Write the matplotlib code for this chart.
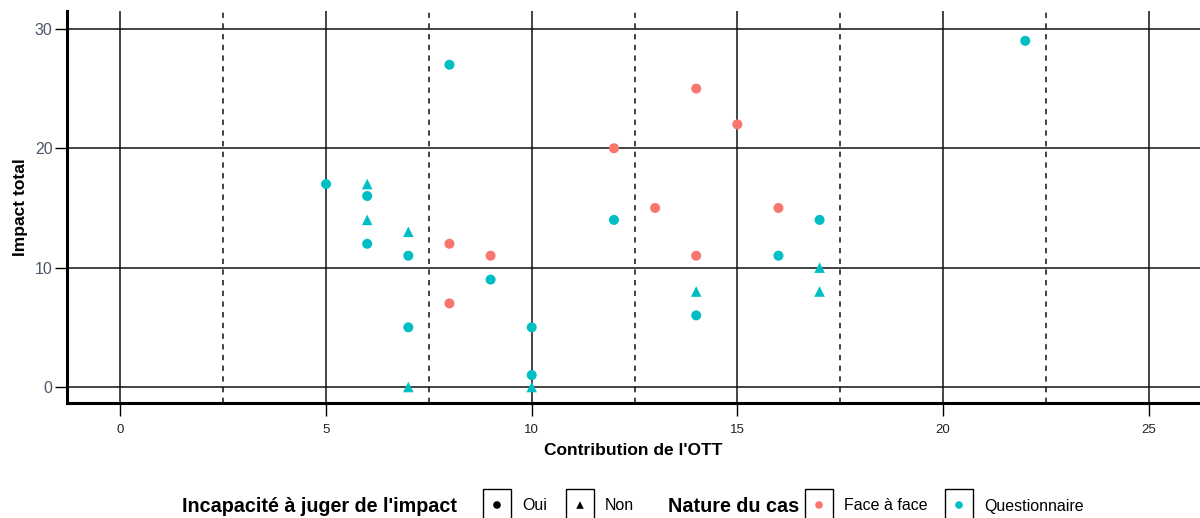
import matplotlib
matplotlib.use('Agg')
import matplotlib.pyplot as plt
from matplotlib.patches import Rectangle

# --- Data ---
contribution = [5, 6, 6, 6, 6, 7, 7, 7, 7, 8, 8, 8, 9, 9, 10, 10, 10,
                12, 12, 13, 14, 14, 14, 14, 15, 16, 16, 17, 17, 17, 22]
impact = [17, 17, 16, 14, 12, 13, 11, 5, 0, 27, 12, 7, 11, 9, 5, 1, 0,
          20, 14, 15, 25, 11, 8, 6, 22, 15, 11, 14, 10, 8, 29]
incapacite = ['Oui', 'Non', 'Oui', 'Non', 'Oui', 'Non', 'Oui', 'Oui', 'Non',
              'Oui', 'Oui', 'Oui', 'Oui', 'Oui', 'Oui', 'Oui', 'Non',
              'Oui', 'Oui', 'Oui', 'Oui', 'Oui', 'Non', 'Oui', 'Oui', 'Oui',
              'Oui', 'Oui', 'Non', 'Non', 'Oui']
nature = ['Questionnaire'] * 9 + ['Questionnaire', 'Face à face', 'Face à face',
          'Face à face', 'Questionnaire', 'Questionnaire', 'Questionnaire',
          'Questionnaire', 'Face à face', 'Questionnaire', 'Face à face',
          'Face à face', 'Face à face', 'Questionnaire', 'Questionnaire',
          'Face à face', 'Face à face', 'Questionnaire', 'Questionnaire',
          'Questionnaire', 'Questionnaire', 'Questionnaire']

x_ticks = [0, 5, 10, 15, 20, 25]
x_minor = [2.5, 7.5, 12.5, 17.5, 22.5]
y_ticks = [0, 10, 20, 30]

COLORS  = {'Face à face': '#F8766D', 'Questionnaire': '#00BFC4'}
MARKERS = {'Oui': 'o', 'Non': '^'}

plt.rcParams['font.family'] = ['Liberation Sans', 'DejaVu Sans']

fig = plt.figure(figsize=(12, 5.18), dpi=100)
W, H = 1200, 518
ax = fig.add_axes([67 / W, 1 - 403 / H, 1 - 67 / W, (403 - 11) / H])

for v in x_ticks:
    ax.axvline(v, color='#111111', lw=1.1, zorder=1)
for v in x_minor:
    ax.axvline(v, color='#111111', lw=1.1, ls=(0, (3.5, 3.5)), zorder=1)
for v in y_ticks:
    ax.axhline(v, color='#111111', lw=1.1, zorder=1)

for inc, mk in MARKERS.items():
    for nat, col in COLORS.items():
        xs = [x for x, i, n in zip(contribution, incapacite, nature) if i == inc and n == nat]
        ys = [y for y, i, n in zip(impact, incapacite, nature) if i == inc and n == nat]
        if xs:
            ax.scatter(xs, ys, marker=mk, s=52 if mk == 'o' else 58,
                       color=col, edgecolors='none', zorder=3)

ax.set_xlim(-1.3, 26.25)
ax.set_ylim(-1.34, 31.5)
ax.set_xticks(x_ticks)
ax.set_yticks(y_ticks)
for s in ['top', 'right']:
    ax.spines[s].set_visible(False)
for s in ['left', 'bottom']:
    ax.spines[s].set_linewidth(2.2)
    ax.spines[s].set_color('black')
ax.tick_params(axis='y', length=8.5, width=1, pad=2, labelsize=11.5,
               labelcolor='#4D5566', color='black')
ax.tick_params(axis='x', length=9, width=1, pad=6, labelsize=9.5,
               labelcolor='#222222', color='black')
ax.set_xlabel("Contribution de l'OTT", fontsize=12.5, fontweight='bold', labelpad=5)
ax.set_ylabel('Impact total', fontsize=12.5, fontweight='bold', labelpad=5)

# --- Legend (drawn in pixel coordinates of an overlay) ---
lg = fig.add_axes([0, 0, 1, 1], zorder=5)
lg.set_xlim(0, W)
lg.set_ylim(H, 0)
lg.axis('off')
lg.patch.set_alpha(0)

ly = 506
lg.text(182, ly, "Incapacité à juger de l'impact", fontsize=14.2,
        fontweight='bold', va='center', ha='left')
lg.text(668, ly, 'Nature du cas', fontsize=14.2, fontweight='bold',
        va='center', ha='left')

keys = [
    (483, 'Oui', 'o', 'black'),
    (566, 'Non', '^', 'black'),
    (805, 'Face à face', 'o', COLORS['Face à face']),
    (945, 'Questionnaire', 'o', COLORS['Questionnaire']),
]
for kx, label, mk, col in keys:
    lg.add_patch(Rectangle((kx, 489), 28, 40, fill=False, ec='black', lw=1))
    lg.scatter([kx + 14], [ly - 1], marker=mk, s=30, color=col,
               edgecolors='none')
    lg.text(kx + 39, ly, label, fontsize=11.5, va='center', ha='left')

fig.savefig('out.png', dpi=100)
